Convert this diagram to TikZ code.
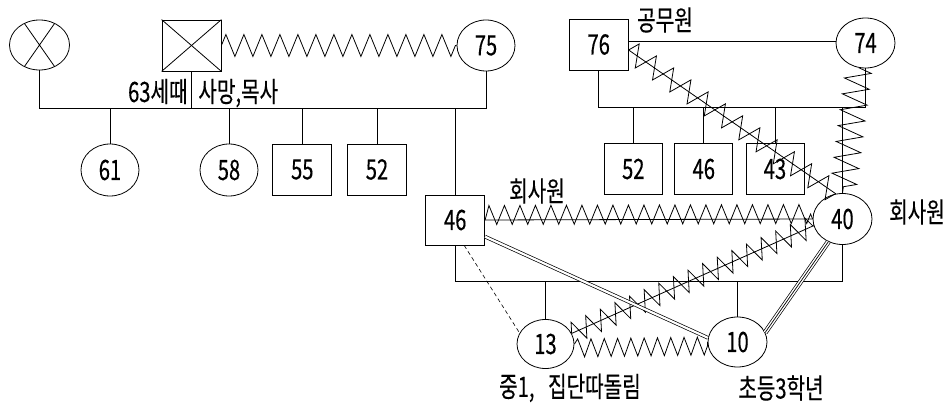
\documentclass[tikz,border=0pt]{standalone}
\usepackage{fontspec}
\setmainfont[FakeStretch=0.72,FakeBold=0.3]{Noto Sans CJK KR}
\usetikzlibrary{shapes.geometric,decorations.pathmorphing}

\begin{document}
\begin{tikzpicture}[x=1pt,y=-1pt,
  font=\fontsize{28}{32}\selectfont,
  line width=0.8pt,
  person/.style={draw, line width=0.8pt, inner sep=0pt},
  male/.style={person, rectangle, minimum width=59pt, minimum height=51pt},
  female/.style={person, ellipse, minimum width=58pt, minimum height=51pt},
  zz/.style n args={2}{decorate, decoration={zigzag, segment length=#1, amplitude=#2, pre length=0pt, post length=0pt}},
  zzr/.style n args={3}{decorate, decoration={zigzag, segment length=#1, amplitude=#2, raise=#3}},
  lbl/.style={inner sep=0pt}
]
\useasboundingbox (0,0) rectangle (950,403);

% ---------- left family ----------
\node[female, minimum width=60pt, minimum height=50pt] (gm1) at (39.5,45) {};
\draw (gm1.125) -- (gm1.305) (gm1.55) -- (gm1.235);
\node[male] (gf) at (191.5,45.5) {};
\draw (gf.north west) -- (gf.south east) (gf.north east) -- (gf.south west);
\node[female] (w75) at (486,45.5) {75};

\node[female, minimum height=52pt] (c61) at (110,170) {61};
\node[female, minimum height=52pt] (c58) at (229,170) {58};
\node[male] (c55) at (302.3,169.5) {55};
\node[male] (c52a) at (377,169.5) {52};
\node[male, minimum height=50pt] (h46) at (455.2,220) {46};

\coordinate (lbar) at (0,108);
\draw (gm1.south) -- (gm1.south |- lbar) -- (w75.south |- lbar) -- (w75.south);
\draw (gf.south) -- (gf.south |- lbar);
\foreach \c in {c61,c58,c55,c52a,h46}
  \draw (\c.north) -- (\c.north |- lbar);
\draw[zz={18pt}{11pt}] (gf.east) -- (w75.west);

\node[lbl, anchor=base east] (t63) at (188,102) {63세때};
\node[lbl, anchor=base west] (tdeath) at (198,102) {사망,목사};

% ---------- right family ----------
\node[male] (m76) at (598.7,44.5) {76};
\node[female, minimum width=59pt, minimum height=50pt] (w74) at (865.5,43) {74};
\node[lbl] (t76) at (665,20) {공무원};

\node[male, minimum width=58pt] (c52b) at (633.3,169) {52};
\node[male, minimum width=58pt] (c46) at (703.8,169) {46};
\node[male, minimum width=58pt] (c43) at (775,169) {43};
\node[female, minimum width=59pt] (w40) at (842.5,219) {40};

\coordinate (rbar) at (0,107);
\draw (m76.south) -- (m76.south |- rbar) -- (w74.south |- rbar) -- (w74.south);
\foreach \c in {c52b,c46,c43,w40}
  \draw (\c.north) -- (\c.north |- rbar);
\draw ([yshift=2.8pt]m76.east) -- ([yshift=1.3pt]w74.west);

% conflict between 74 and 40
\draw[zz={16pt}{13pt}] (w74.255) -- (w40.north);
% conflict between 76 and 40
\draw ([yshift=-5.5pt]m76.east) -- (w40.105);
\draw[zz={21pt}{11pt}] ([yshift=-5.5pt]m76.east) -- (w40.105);

% ---------- nuclear family ----------
\node[female, minimum width=57pt, minimum height=49pt] (d13) at (545.5,344) {13};
\node[female, minimum width=59pt, minimum height=50pt] (s10) at (737.5,342) {10};

\coordinate (bbar) at (0,281);
\draw (h46.south) -- (h46.south |- bbar) -- (w40.south |- bbar) -- (w40.south);
\foreach \c in {d13,s10}
  \draw (\c.north) -- (\c.north |- bbar);

% 46 -- 40 conflict
\draw (h46.east) -- (w40.west);
\draw[zzr={15.5pt}{9.5pt}{5pt}] (h46.east) -- (w40.west);
% 13 -- 40 conflict
\draw (d13.22) -- (w40.193);
\draw[zz={16pt}{10.5pt}] (d13.22) -- (w40.193);
% 13 -- 10 conflict
\draw[zzr={13.3pt}{9pt}{-4pt}] (d13.east) -- (s10.west);
% 46 -- 10 close
\draw[double, double distance=2.2pt, line width=0.7pt] ([yshift=-16.7pt]h46.east) -- (s10.172);
% 40 -- 10 very close
\draw[double, double distance=3.6pt, line width=0.7pt] (w40.238) -- (s10.19);
\draw[line width=0.7pt] (w40.238) -- (s10.19);
% 46 -- 13 distant
\draw[dashed, line width=0.6pt, dash pattern=on 4pt off 3pt] ([xshift=9pt]h46.south) -- (d13.157);

\node[lbl] (t46) at (537,191) {회사원};
\node[lbl] (t40) at (917,212) {회사원};
\node[lbl] (t13) at (570,388) {중1,~~~집단따돌림};
\node[lbl] (t10) at (781,388) {초등3학년};
\end{tikzpicture}
\end{document}
